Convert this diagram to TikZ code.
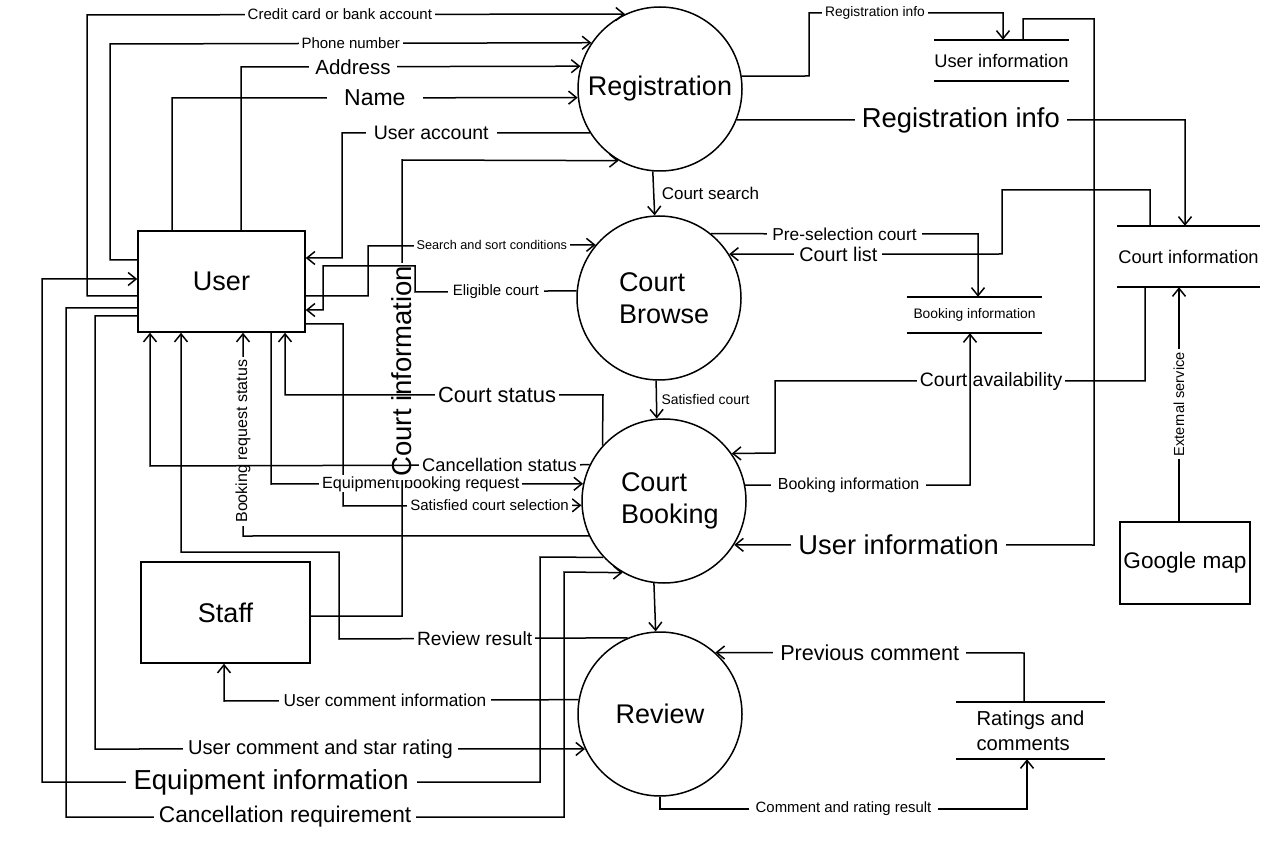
\documentclass[tikz,border=0pt]{standalone}
\usepackage{fontspec}
\setmainfont{Liberation Sans}
\usetikzlibrary{arrows.meta}

\newcommand{\fsz}[1]{\fontsize{#1}{#1}\selectfont}

\tikzset{
  flow/.style={draw, line width=1.5pt, -{Straight Barb[length=8pt,width=13pt]}},
  link/.style={draw, line width=1.5pt},
  lbl/.style={fill=white, inner xsep=3pt, inner ysep=1pt, font=\fsz{#1}},
  proc/.style={draw, circle, line width=1.5pt, minimum size=164pt, inner sep=0pt, font=\fontsize{27}{32}\selectfont},
  entity/.style={draw, rectangle, line width=1.5pt, inner sep=0pt},
  store/.style={inner sep=0pt, font=\fsz{#1}},
}

\begin{document}
\begin{tikzpicture}[x=1pt,y=-1pt]
\useasboundingbox (0,0) rectangle (1262,842);

% external entities
\node[entity, minimum width=167pt, minimum height=101pt, font=\fsz{27}] (user) at (221.5,281.5) {User};
\node[entity, minimum width=169pt, minimum height=101pt, font=\fsz{27}] (staff) at (225.5,612.5) {Staff};
\node[entity, minimum width=130pt, minimum height=82pt, font=\fsz{22.6}] (gmap) at (1185,563) {Google map};

% processes
\node[proc] (reg) at (660,89) {Registration};
\node[proc, text width=80pt, align=left] (browse) at (659,298) {Court\\Browse};
\node[proc, text width=86pt, align=left] (booking) at (664,501) {Court\\Booking};
\node[proc] (review) at (660,714) {Review};

% data stores
\node[store=18.3, minimum width=123pt, minimum height=41pt] (uinfo) at (1001.5,60.5) {User information};
\draw[link] (uinfo.north west) -- (uinfo.north east);
\draw[link] (uinfo.south west) -- (uinfo.south east);
\node[store=18.3, minimum width=143pt, minimum height=61pt] (cinfo) at (1188.5,256.5) {Court information};
\draw[link] (cinfo.north west) -- (cinfo.north east);
\draw[link] (cinfo.south west) -- (cinfo.south east);
\node[store=13.8, minimum width=135pt, minimum height=36pt] (binfo) at (974.5,315) {Booking information};
\draw[link] (binfo.north west) -- (binfo.north east);
\draw[link] (binfo.south west) -- (binfo.south east);
\node[store=20.2, minimum width=149pt, minimum height=57pt, align=left, font=\fontsize{20.2}{25}\selectfont] (rating) at (1030.5,730.5) {Ratings and\\comments};
\draw[link] (rating.north west) -- (rating.north east);
\draw[link] (rating.south west) -- (rating.south east);

% into registration
\draw[flow] (user.west |- 0,296) -- (87,296) -- (87,15) -- node[lbl=15,pos=.47]{Credit card or bank account} (reg.115.5);
\draw[flow] (user.west |- 0,260) -- (110,260) -- (110,44) -- node[lbl=15]{Phone number} (reg.146.7);
\draw[flow] (user.north -| 241,0) -- (241,67) -- node[lbl=20.5,pos=.33,inner xsep=6pt]{Address} (reg.164.4);
\draw[flow] (user.north -| 172,0) -- (172,98) -- node[lbl=23,inner xsep=17pt]{Name} (reg.186.3);
\draw[flow] (reg.212.5) -- node[lbl=19.5,pos=.64,inner xsep=8pt]{User account} (342,133) -- (342,258) -- (user.east |- 0,258);

% user <-> booking (order matters for crossings)
\draw[flow] (user.east |- 0,324) -- (343,324) -- (343,506) -- node[lbl=15,pos=.615]{Satisfied court selection} (booking.183.5);
\draw[flow] (user.south -| 271,0) -- (271,484) -- node[lbl=16.2,pos=.48]{Equipment booking request} (booking.168);
\draw[flow] (staff.east |- 0,616) -- (402,616) -- node[lbl=27.5,rotate=90,pos=.537]{Court information} (402,160) -- (reg.240);
\draw[flow] (booking.205.3) -- (243,536) -- node[lbl=16,rotate=90,pos=.466]{Booking request status} (user.south -| 243,0);
\draw[flow] (booking.138.1) -- (603,395) -- node[lbl=21.9,pos=.333]{Court status} (285,395) -- (user.south -| 285,0);
\draw[flow] (booking.154.7) -- node[lbl=18.3,pos=.205]{Cancellation status} (150,466) -- (user.south -| 150,0);

% browse
\draw[flow] (user.east |- 0,296) -- (368,296) -- (368,246) -- node[lbl=12.7,pos=.544]{Search and sort conditions} (browse.140.6);
\draw[flow] (browse.175.8) -- node[lbl=15,inner xsep=5pt]{Eligible court} (415,292) -- (415,266) -- (323,266) -- (323,310) -- (user.east |- 0,310);
\draw[flow] (reg.265.8) -- node[right,xshift=4pt,font=\fsz{17}]{Court search} (browse.93.5);
\draw[flow] (browse.51.3) -- node[lbl=17.3,inner xsep=5pt]{Pre-selection court} (978,234) -- (binfo.north -| 978,0);
\draw[flow] (cinfo.north -| 1150,0) -- (1150,190) -- (1002,190) -- (1002,254) -- node[lbl=19.8,pos=.6,inner xsep=5pt]{Court list} (browse.32.5);
\draw[flow] (browse.268) -- node[right,xshift=1pt,font=\fsz{13.9}]{Satisfied court} (booking.95.6);

% registration outputs
\draw[flow] (reg.9.1) -- (809,76) -- (809,13) -- node[lbl=13.8,pos=.34]{Registration info} (1003,13) -- (uinfo.north -| 1003,0);
\draw[flow] (reg.-22.2) -- node[lbl=27.4,inner xsep=7pt]{Registration info} (1185,120) -- (cinfo.north -| 1185,0);
\draw[flow] (uinfo.north -| 1023,0) -- (1023,19) -- (1094,19) -- (1094,545) -- node[lbl=27.3,pos=.543,inner xsep=7pt]{User information} (booking.-32.5);

% booking stores
\draw[flow] (cinfo.south -| 1145,0) -- (1145,381) -- node[lbl=19.4,pos=.416]{Court availability} (775,381) -- (775,453) -- (booking.35.8);
\draw[flow] (booking.11.3) -- node[lbl=16,pos=.46,inner xsep=7pt]{Booking information} (970,485) -- (binfo.south -| 970,0);
\draw[flow] (gmap.north -| 1179,0) -- node[lbl=14.6,rotate=90]{External service} (cinfo.south -| 1179,0);

% review and the lower flows
\draw[flow] (booking.223.1) -- (540,557) -- (540,782) -- node[lbl=27.5,pos=.54,inner xsep=8pt]{Equipment information} (42,782) -- (42,279) -- (user.west |- 0,279);
\draw[flow] (user.west |- 0,308) -- (66,308) -- (66,817) -- node[lbl=22.7,pos=.44,inner xsep=5pt]{Cancellation requirement} (564,817) -- (564,572) -- (booking.240);
\draw[flow] (user.west |- 0,316) -- (95,316) -- (95,749) -- node[lbl=20.1,pos=.46,inner xsep=5pt]{User comment and star rating} (review.205.3);
\draw[flow] (review.113.8) -- node[lbl=19.2,pos=.53]{Review result} (339,639) -- (339,552) -- (181,552) -- (user.south -| 181,0);
\draw[flow] (review.170.9) -- node[lbl=17.3,pos=.546,inner xsep=5pt]{User comment information} (224,701) -- (staff.south -| 224,0);
\draw[flow] (booking.263.7) -- (review.93.5);
\draw[flow] (rating.north -| 1024,0) -- (1024,653) -- node[lbl=21.6,inner xsep=7pt]{Previous comment} (review.48.1);
\draw[flow] (review.south) -- (660,809) -- node[lbl=14.9,inner xsep=7pt]{Comment and rating result} (1027,809) -- (rating.south -| 1027,0);

\end{tikzpicture}
\end{document}
